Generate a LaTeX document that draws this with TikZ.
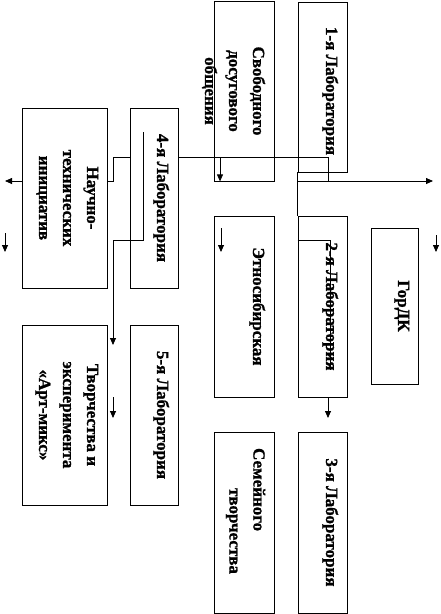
\documentclass[tikz,border=0pt]{standalone}
\usepackage{fontspec}
\setmainfont{Liberation Serif}[BoldFont={Liberation Serif Bold}, BoldFeatures={FakeBold=1.2}]
\usetikzlibrary{arrows.meta}

\tikzset{
  box/.style={draw, line width=0.8pt, inner sep=0pt},
  lab/.style={box, minimum width=49pt, minimum height=181pt},
  wide/.style={box, minimum width=60pt, minimum height=181pt},
  big/.style={box, minimum width=85pt, minimum height=180pt},
  txt/.style={rotate=-90, anchor=north, align=center, inner sep=9pt,
    font=\fontsize{17}{24}\selectfont\bfseries},
  conn/.style={line width=0.8pt},
  arr/.style={conn, -{Triangle[length=7pt,width=6pt]}}
}

\begin{document}
\begin{tikzpicture}[x=1pt, y=-1pt]
  \useasboundingbox (0,0) rectangle (441,614);

  % Boxes, top row
  \node[wide, minimum height=180pt] (svob) at (244,91) {};
  \node[lab, minimum height=170pt] (lab1) at (322.5,87) {};
  \node[big] (nauch) at (64.5,198) {};
  \node[lab, minimum width=48pt, minimum height=180pt] (lab4) at (154,198) {};
  % middle row
  \node[wide] (etno) at (244,306.5) {};
  \node[lab] (lab2) at (322.5,306.5) {};
  \node[box, minimum width=47pt, minimum height=156pt] (gordk) at (394.5,306) {};
  \node[big] (tvor) at (64.5,415) {};
  \node[lab, minimum width=48pt, minimum height=180pt] (lab5) at (154,415) {};
  % bottom row
  \node[wide] (sem) at (244,522.5) {};
  \node[lab] (lab3) at (322.5,522.5) {};

  % Texts
  \node[txt] (svobt) at (svob.east) {Свободного\\досугового\\общения};
  \node[txt] (lab1t) at ([yshift=-4pt]lab1.east) {1-я Лаборатория};
  \node[txt] (naucht) at (nauch.east) {Научно-\\технических\\инициатив};
  \node[txt] (lab4t) at (lab4.east) {4-я Лаборатория};
  \node[txt] (etnot) at (etno.east) {Этносибирская};
  \node[txt] (lab2t) at (lab2.east) {2-я Лаборатория};
  \node[txt] (gordkt) at (gordk.east) {ГорДК};
  \node[txt] (tvort) at (tvor.east) {Творчества и\\эксперимента\\«Арт-микс»};
  \node[txt] (lab5t) at (lab5.east) {5-я Лаборатория};
  \node[txt, align=left] (semt) at ([yshift=11.5pt]sem.east) {Семейного\\\hspace*{40pt}творчества};
  \node[txt] (lab3t) at (lab3.east) {3-я Лаборатория};

  % Junctions
  \coordinate (top) at (328,157);
  \coordinate (hub) at (328,181);
  \coordinate (bend) at (113,157);
  \coordinate (outR) at (433,181);
  \coordinate (outL) at (5,181);
  \coordinate (d1) at (220,157);
  \coordinate (s4) at (143,132);
  \coordinate (k4) at (143,240);
  \coordinate (in5) at (113,345);
  \coordinate (st2) at (330,240);
  \coordinate (e2) at (330,370);
  \coordinate (out2) at (328,418);

  % Connectors
  \draw[conn] (lab4.east |- top) -- (top) -- (hub);
  \draw[arr] (lab1.west |- hub) -- (outR);
  \draw[conn] (lab1.south west) -- (lab2.north west);
  \draw[arr] (d1) -- (d1 |- svob.south);
  \draw[conn] (lab4.west |- top) -- (bend) -- (bend |- hub) -- (nauch.east |- hub);
  \draw[arr] (nauch.west |- hub) -- (outL);
  \draw[arr] (s4) -- (k4) -- (k4 -| bend) -- (in5);
  \draw[conn] (lab2.west |- st2) -- (st2) -- (e2);
  \draw[arr] (hub |- lab2.south) -- (out2);

  % Loose arrows
  \foreach \x/\ya/\yb in {5/233/252, 113/397/418, 221/228/252, 436/235/252}
    \draw[arr] (\x,\ya) -- (\x,\yb);
\end{tikzpicture}
\end{document}
